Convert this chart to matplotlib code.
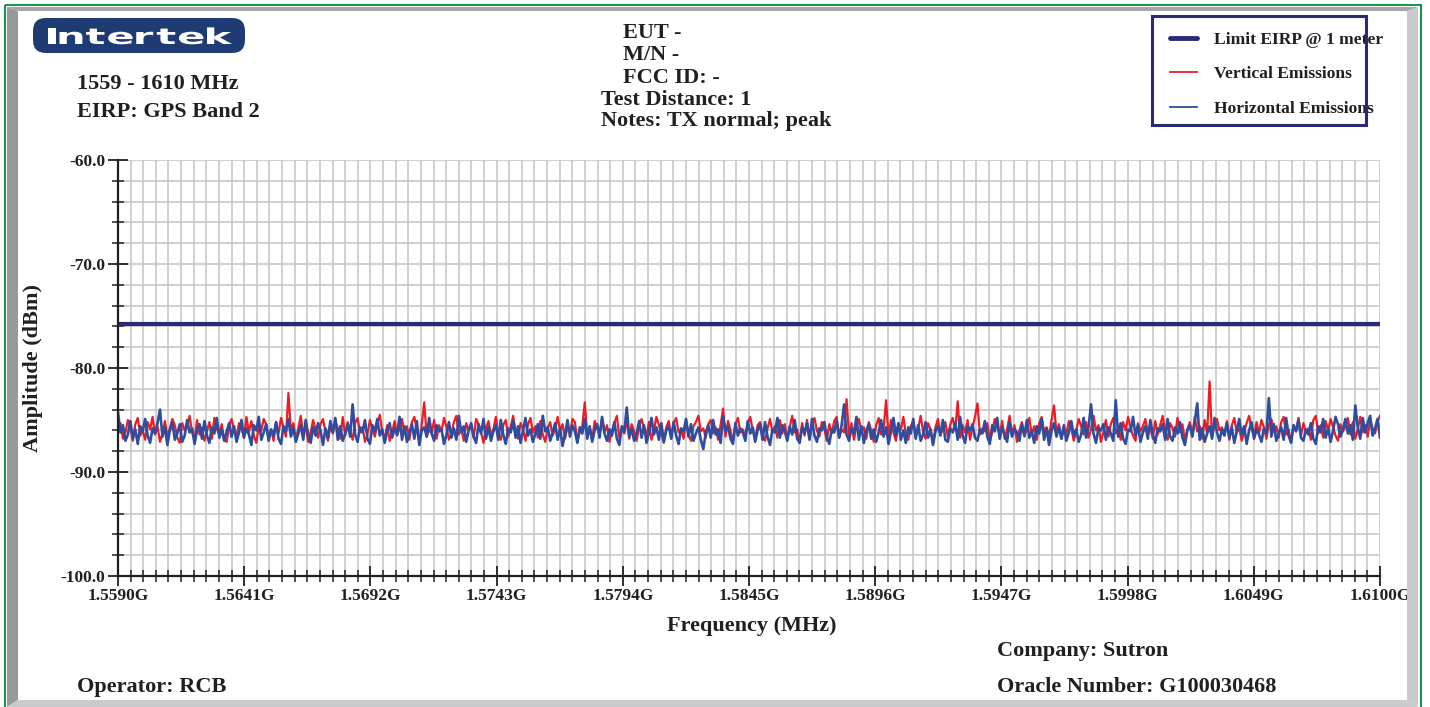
import numpy as np
import matplotlib
matplotlib.use("Agg")
import matplotlib.pyplot as plt
from matplotlib.patches import Rectangle, FancyBboxPatch, Polygon, PathPatch
from matplotlib.lines import Line2D
from matplotlib.textpath import TextPath
from matplotlib.font_manager import FontProperties
from matplotlib.transforms import Affine2D

# ---- data ----
f_start, f_stop = 1559.0, 1610.0          # MHz
limit_eirp = -75.8                        # dBm

x_ticks = [1559.0, 1564.1, 1569.2, 1574.3, 1579.4, 1584.5,
           1589.6, 1594.7, 1599.8, 1604.9, 1610.0]
x_labels = ["1.5590G", "1.5641G", "1.5692G", "1.5743G", "1.5794G", "1.5845G",
            "1.5896G", "1.5947G", "1.5998G", "1.6049G", "1.6100G"]
y_ticks = [-100, -90, -80, -70, -60]
y_labels = ["-100.0", "-90.0", "-80.0", "-70.0", "-60.0"]

vertical = [
    -86.1, -85.3, -86.8, -86.2, -85.0, -85.7, -87.0, -85.4, -84.8, -86.5, -86.0, -86.9, -85.2, -85.9, -84.7, -86.4,
    -85.6, -87.1, -86.3, -85.1, -86.6, -85.8, -84.9, -85.5, -86.7, -87.2, -85.3, -86.0, -85.6, -84.6, -86.2, -86.9,
    -85.0, -86.4, -85.7, -87.0, -86.1, -85.2, -86.8, -84.8, -85.9, -86.3, -85.4, -86.9, -87.1, -85.5, -84.9, -86.0,
    -86.6, -85.3, -85.8, -86.7, -84.7, -86.2, -85.1, -86.5, -87.2, -85.6, -86.0, -84.9, -85.4, -86.8, -85.9, -87.0,
    -85.2, -86.3, -84.8, -85.7, -86.6, -82.4, -86.0, -85.3, -86.9, -85.8, -84.6, -86.4, -85.5, -87.1, -86.2, -85.0,
    -85.9, -86.7, -85.4, -84.9, -86.1, -87.0, -85.6, -86.3, -85.1, -85.8, -86.8, -84.7, -86.5, -85.2, -86.0, -86.9,
    -85.3, -84.8, -86.2, -85.7, -87.1, -86.4, -85.0, -85.9, -86.6, -85.4, -84.5, -86.1, -86.8, -85.5, -87.0, -86.2,
    -85.1, -86.5, -85.8, -84.9, -86.3, -85.6, -86.9, -85.2, -84.7, -86.0, -87.1, -85.4, -83.3, -86.6, -85.9, -86.3,
    -85.0, -86.8, -85.5, -86.1, -84.8, -85.7, -86.9, -86.3, -85.2, -84.6, -86.4, -85.8, -87.0, -85.3, -86.0, -85.6,
    -86.7, -84.9, -85.4, -86.2, -87.2, -85.8, -85.1, -86.5, -85.9, -84.7, -86.3, -86.9, -85.5, -85.0, -86.6, -85.7,
    -84.6, -86.1, -86.8, -85.3, -85.9, -87.0, -85.4, -84.8, -86.2, -85.6, -86.7, -85.1, -86.4, -87.1, -85.8, -85.2,
    -86.5, -85.9, -84.7, -86.0, -85.4, -86.8, -85.7, -86.3, -84.9, -85.2, -87.0, -86.1, -85.6, -83.3, -86.4, -85.8,
    -86.9, -85.1, -85.7, -86.4, -84.8, -86.2, -85.5, -87.1, -86.0, -85.3, -84.6, -86.7, -85.9, -86.3, -85.0, -86.8,
    -85.4, -86.1, -87.0, -85.6, -84.9, -85.8, -86.5, -85.2, -86.9, -86.0, -84.7, -85.5, -86.3, -87.2, -85.7, -85.1,
    -86.6, -85.3, -84.8, -86.2, -85.9, -86.8, -85.0, -86.4, -87.0, -85.6, -85.2, -84.6, -86.1, -85.8, -86.7, -85.4,
    -85.0, -86.3, -85.7, -86.9, -85.5, -83.9, -86.6, -85.1, -86.0, -87.1, -85.4, -84.8, -86.2, -85.9, -86.5, -85.3,
    -84.7, -86.0, -86.8, -85.5, -85.2, -86.4, -87.0, -85.8, -84.9, -86.1, -85.6, -86.7, -85.0, -86.3, -85.4, -86.9,
    -85.7, -84.6, -86.2, -85.9, -87.1, -85.3, -86.5, -85.0, -86.8, -85.6, -84.8, -86.0, -86.6, -85.2, -85.8, -87.0,
    -85.4, -86.3, -85.1, -84.7, -86.7, -85.9, -86.2, -83.0, -86.5, -85.3, -86.9, -85.6, -84.9, -86.1, -85.7, -86.8,
    -85.2, -86.0, -87.1, -85.5, -84.8, -86.4, -85.8, -83.1, -86.6, -85.0, -86.2, -87.0, -85.4, -85.9, -84.7, -86.3,
    -86.9, -85.6, -85.1, -86.5, -85.8, -84.6, -86.1, -86.8, -85.3, -85.9, -87.2, -85.7, -84.9, -86.3, -86.0, -85.2,
    -86.6, -85.4, -84.8, -86.0, -83.2, -86.7, -85.5, -86.2, -85.0, -86.9, -85.7, -84.7, -83.4, -86.4, -85.8, -86.1,
    -85.3, -87.0, -86.2, -84.9, -85.6, -86.5, -85.1, -86.8, -85.9, -84.6, -86.3, -85.5, -87.1, -86.0, -85.2, -86.6,
    -85.8, -84.8, -86.4, -85.6, -86.9, -85.3, -84.7, -86.1, -85.7, -86.6, -85.0, -83.6, -86.2, -85.4, -86.8, -85.9,
    -86.3, -85.1, -85.8, -87.0, -86.1, -84.9, -85.6, -86.4, -85.2, -86.7, -85.9, -84.6, -86.0, -85.5, -87.1, -86.2,
    -85.0, -86.6, -85.4, -84.8, -86.3, -85.7, -86.9, -85.2, -86.0, -84.7, -85.8, -86.5, -87.0, -85.3, -86.1, -85.6,
    -84.9, -86.2, -85.7, -86.8, -85.1, -86.4, -85.5, -84.6, -86.0, -86.9, -85.3, -85.8, -86.6, -84.8, -86.2, -85.4,
    -87.0, -85.9, -85.2, -86.5, -84.7, -86.1, -85.6, -86.8, -85.0, -86.3, -81.3, -86.7, -85.4, -84.9, -86.0, -85.7,
    -86.4, -85.1, -86.9, -85.5, -84.8, -86.2, -85.8, -87.0, -86.1, -85.3, -84.6, -85.9, -86.6, -85.2, -86.3, -85.0,
    -85.7, -86.8, -85.4, -84.9, -86.1, -85.6, -86.7, -85.2, -84.7, -86.4, -85.9, -87.1, -85.5, -86.0, -84.8, -86.5,
    -85.3, -86.2, -85.8, -86.9, -85.0, -84.6, -86.3, -85.5, -86.7, -85.1, -86.0, -84.9, -85.7, -86.5, -87.0, -85.4,
    -86.1, -85.6, -84.8, -86.4, -85.2, -86.8, -85.9, -84.7, -86.2, -85.5, -86.6, -85.0, -85.8, -86.3, -85.1, -84.6,
]

horizontal = [
    -84.3, -86.2, -85.5, -87.0, -86.4, -85.1, -86.8, -85.9, -87.3, -85.6, -86.1, -84.9, -86.5, -87.2, -85.8, -86.3,
    -85.3, -84.0, -86.6, -85.7, -87.4, -86.0, -85.2, -86.9, -86.3, -85.4, -87.1, -86.5, -85.0, -86.2, -85.8, -87.3,
    -86.0, -85.4, -86.8, -85.1, -86.5, -87.2, -85.7, -86.3, -84.8, -86.7, -85.9, -87.0, -86.1, -85.3, -86.6, -85.6,
    -87.1, -86.2, -85.0, -86.7, -85.8, -86.4, -87.4, -85.5, -86.0, -84.7, -86.9, -86.2, -85.4, -87.0, -85.9, -86.5,
    -85.2, -86.8, -87.3, -85.6, -86.1, -84.9, -86.6, -85.8, -87.1, -86.3, -85.5, -86.9, -85.0, -86.4, -87.2, -85.7,
    -86.5, -85.3, -86.0, -87.4, -85.8, -86.7, -85.1, -86.2, -84.8, -86.9, -85.6, -87.0, -86.3, -85.4, -86.6, -83.5,
    -86.4, -87.1, -85.7, -86.2, -85.0, -86.8, -87.3, -85.5, -86.1, -84.9, -86.5, -85.9, -87.2, -86.0, -85.3, -86.7,
    -85.8, -86.4, -84.7, -86.9, -85.6, -87.1, -86.2, -85.4, -86.8, -85.1, -87.4, -86.0, -85.7, -86.6, -84.8, -86.3,
    -87.0, -85.5, -86.1, -85.9, -87.3, -86.4, -85.2, -86.7, -85.8, -86.9, -84.6, -86.2, -85.6, -87.1, -86.0, -85.3,
    -86.6, -87.2, -85.4, -86.3, -84.9, -86.8, -85.7, -87.0, -86.1, -85.5, -86.9, -85.0, -86.4, -87.3, -85.8, -86.2,
    -85.1, -86.7, -85.6, -87.2, -86.0, -84.8, -86.5, -85.9, -87.1, -86.3, -85.4, -86.8, -84.6, -86.1, -85.7, -87.0,
    -86.2, -85.3, -86.9, -85.8, -87.5, -86.4, -85.0, -86.6, -85.5, -86.1, -87.2, -85.7, -86.3, -84.9, -86.8, -85.6,
    -87.1, -86.0, -85.4, -86.7, -84.7, -86.3, -87.0, -85.9, -86.5, -85.2, -86.8, -87.4, -85.6, -86.1, -83.8, -86.6,
    -85.9, -87.0, -86.3, -85.1, -86.7, -85.5, -87.2, -86.2, -84.8, -86.4, -85.7, -86.9, -85.3, -87.1, -86.0, -85.6,
    -86.8, -85.2, -86.5, -87.3, -85.8, -86.1, -84.9, -86.6, -85.4, -87.0, -86.3, -85.7, -86.9, -87.8, -86.2, -85.5,
    -86.7, -85.0, -86.4, -85.9, -87.2, -84.7, -86.1, -85.6, -86.8, -87.3, -85.3, -86.5, -85.8, -86.2, -87.0, -85.1,
    -86.3, -85.7, -87.1, -86.0, -85.4, -86.9, -85.2, -86.6, -87.4, -85.9, -86.2, -84.8, -86.7, -85.5, -86.1, -87.0,
    -85.6, -86.4, -85.0, -86.8, -87.2, -85.7, -86.3, -85.3, -86.9, -84.9, -86.5, -87.1, -85.8, -86.0, -85.2, -86.6,
    -87.3, -85.9, -86.2, -85.1, -86.7, -85.5, -83.5, -86.4, -87.0, -85.8, -86.3, -84.7, -86.9, -85.6, -87.2, -86.0,
    -85.4, -86.8, -85.9, -87.1, -86.2, -85.0, -86.6, -85.7, -87.3, -86.1, -84.8, -86.5, -85.3, -86.9, -86.0, -87.2,
    -85.7, -86.3, -84.9, -86.8, -85.5, -87.0, -86.4, -85.2, -86.7, -85.9, -87.4, -86.1, -85.6, -86.5, -85.0, -86.9,
    -87.1, -85.8, -86.2, -85.3, -86.9, -84.7, -86.5, -87.2, -85.6, -86.0, -85.4, -86.7, -87.0, -85.9, -86.3, -85.1,
    -86.6, -87.3, -85.5, -86.1, -84.8, -86.8, -85.7, -86.4, -87.1, -85.2, -86.6, -85.9, -86.2, -87.0, -85.4, -86.5,
    -85.0, -86.7, -86.1, -87.2, -85.6, -86.3, -84.9, -86.9, -85.8, -87.4, -86.0, -85.3, -86.6, -85.7, -86.8, -85.5,
    -87.0, -86.2, -85.1, -86.5, -85.9, -87.1, -86.4, -84.8, -86.7, -85.6, -83.5, -86.3, -87.2, -85.8, -86.0, -85.4,
    -86.9, -85.7, -86.3, -87.0, -83.1, -86.6, -85.3, -86.8, -87.3, -85.9, -86.1, -84.7, -86.5, -85.5, -87.1, -86.2,
    -85.6, -86.8, -85.0, -86.4, -87.2, -85.8, -86.1, -85.4, -86.9, -84.9, -86.6, -87.0, -85.7, -86.3, -85.2, -86.7,
    -87.4, -86.0, -85.5, -86.6, -85.1, -83.4, -86.9, -85.8, -87.1, -86.3, -85.6, -86.8, -84.8, -86.2, -87.0, -85.9,
    -86.5, -85.3, -86.7, -85.7, -87.2, -86.1, -84.9, -86.4, -85.6, -87.3, -86.0, -85.2, -86.8, -85.9, -86.4, -87.1,
    -85.8, -86.3, -82.9, -86.6, -85.4, -87.0, -86.2, -85.7, -86.9, -84.8, -86.5, -87.2, -85.5, -86.1, -85.0, -86.7,
    -87.0, -85.9, -86.4, -85.3, -86.8, -87.3, -85.6, -86.2, -84.9, -86.7, -85.8, -87.1, -86.0, -84.7, -85.4, -86.6,
    -85.9, -84.9, -86.3, -85.5, -86.9, -83.6, -85.7, -86.8, -84.8, -86.2, -85.3, -84.6, -86.5, -85.8, -84.9, -86.7,
]

freq = np.linspace(f_start, f_stop, len(vertical))   # sweep points

# ---- styling ----
W, H, DPI = 1430, 707, 100
SERIF = "Liberation Serif"
INK = "#231F20"
NAVY = "#2B2A78"
RED = "#ED1C24"
BLUE = "#2E4DA0"

fig = plt.figure(figsize=(W / DPI, H / DPI), dpi=DPI, facecolor="white")
# pixel coords, origin top-left
px = Affine2D().scale(1 / DPI, -1 / DPI).translate(0, H / DPI) + fig.dpi_scale_trans
pxb = Affine2D().scale(1 / DPI) + fig.dpi_scale_trans

# frame / bevel
fig.add_artist(Polygon([(7, 7), (18, 11), (18, 700), (7, 707)], closed=True,
                       color="#98999B", lw=0, transform=px))
fig.add_artist(Polygon([(7, 7), (1418, 7), (1407, 11), (18, 11)], closed=True,
                       color="#A5A6A8", lw=0, transform=px))
fig.add_artist(Polygon([(1407, 11), (1418, 7), (1418, 707), (1407, 700)], closed=True,
                       color="#C9CACC", lw=0, transform=px))
fig.add_artist(Polygon([(18, 700), (1407, 700), (1418, 707), (7, 707)], closed=True,
                       color="#C9CACC", lw=0, transform=px))
fig.add_artist(Rectangle((5, 5), 1416, 710, fill=False, edgecolor="#1E9050",
                         lw=1.5, transform=px))

# logo
fig.add_artist(FancyBboxPatch((33, 18), 212, 35, boxstyle="round,pad=0,rounding_size=13",
                              facecolor="#1F3B73", edgecolor="none", transform=px))
fp = FontProperties(family="DejaVu Sans", weight="bold")
glyphs = [TextPath((0, 0), c, size=100, prop=fp) for c in "Intertek"]
sy = 16 / 73.0
sx = sy * 1.9
gw = [g.get_extents().width for g in glyphs]
gap = (184 - sx * sum(gw)) / (len(glyphs) - 1)
xcur = 48
for g, w in zip(glyphs, gw):
    e = g.get_extents()
    p = g.transformed(Affine2D().translate(-e.x0, 0).scale(sx, sy).translate(xcur, H - 44))
    fig.add_artist(PathPatch(p, facecolor="white", edgecolor="none", transform=pxb))
    xcur += sx * w + gap

def label(x, y, s, size=16, **kw):
    fig.text(x / W, 1 - y / H, s, fontsize=size, fontweight="bold", family=SERIF,
             color=INK, va="baseline", **kw)

label(77, 89, "1559 - 1610 MHz")
label(77, 117, "EIRP: GPS Band 2")
label(623, 38, "EUT -")
label(623, 60, "M/N -")
label(623, 83, "FCC ID: -")
label(601, 105, "Test Distance: 1")
label(601, 126, "Notes: TX normal; peak")
label(997, 656, "Company: Sutron")
label(997, 692, "Oracle Number: G100030468")
label(77, 692, "Operator: RCB")

# legend (drawn by hand like the instrument report)
label(1214, 44, "Limit EIRP @ 1 meter", size=12.6)
label(1214, 78, "Vertical Emissions", size=12.6)
label(1214, 113, "Horizontal Emissions", size=12.6)
fig.add_artist(Rectangle((1152, 16), 214, 109, fill=False, edgecolor=NAVY, lw=2.2,
                         transform=px, zorder=5))
fig.add_artist(Line2D([1170, 1197], [38, 38], color=NAVY, lw=3.5,
                      solid_capstyle="round", transform=px))
fig.add_artist(Line2D([1170, 1197], [72, 72], color=RED, lw=1.3, transform=px))
fig.add_artist(Line2D([1170, 1197], [107, 107], color=BLUE, lw=1.3, transform=px))

# axes
ax = fig.add_axes([118 / W, (H - 576) / H, 1262 / W, 416 / H])
ax.set_xlim(f_start, f_stop)
ax.set_ylim(-100, -60)

ax.plot(freq, vertical, color=RED, lw=1.6, zorder=3)
ax.plot(freq, horizontal, color=BLUE, lw=1.9, zorder=4)
ax.axhline(limit_eirp, color=NAVY, lw=3.0, solid_capstyle="butt", zorder=5)

ax.set_xticks(x_ticks, x_labels)
ax.set_xticks(np.linspace(f_start, f_stop, 101), minor=True)
ax.set_yticks(y_ticks, y_labels)
ax.set_yticks(np.arange(-100, -59, 2), minor=True)

ax.grid(which="both", color="#C8C8C8", lw=1.2)
ax.set_axisbelow(True)
for s in ("top", "right"):
    ax.spines[s].set_visible(False)
for s in ("left", "bottom"):
    ax.spines[s].set_linewidth(1.6)
    ax.spines[s].set_color(INK)
    ax.spines[s].set_zorder(6)

ax.tick_params(which="major", direction="inout", length=14, width=1.3, color=INK, pad=2)
ax.tick_params(which="minor", direction="inout", length=9, width=1.1, color=INK)
for t in ax.get_xticklabels() + ax.get_yticklabels():
    t.set_fontfamily(SERIF)
    t.set_fontweight("bold")
    t.set_fontsize(12.5)
    t.set_color(INK)

fig.text(33 / W, 1 - 368 / H, "Amplitude (dBm)", rotation=90, fontsize=16,
         fontweight="bold", family=SERIF, color=INK, ha="center", va="center")
fig.text(752 / W, 1 - 626 / H, "Frequency (MHz)", fontsize=16,
         fontweight="bold", family=SERIF, color=INK, ha="center", va="center")

fig.savefig("out.png", dpi=DPI, facecolor="white")
